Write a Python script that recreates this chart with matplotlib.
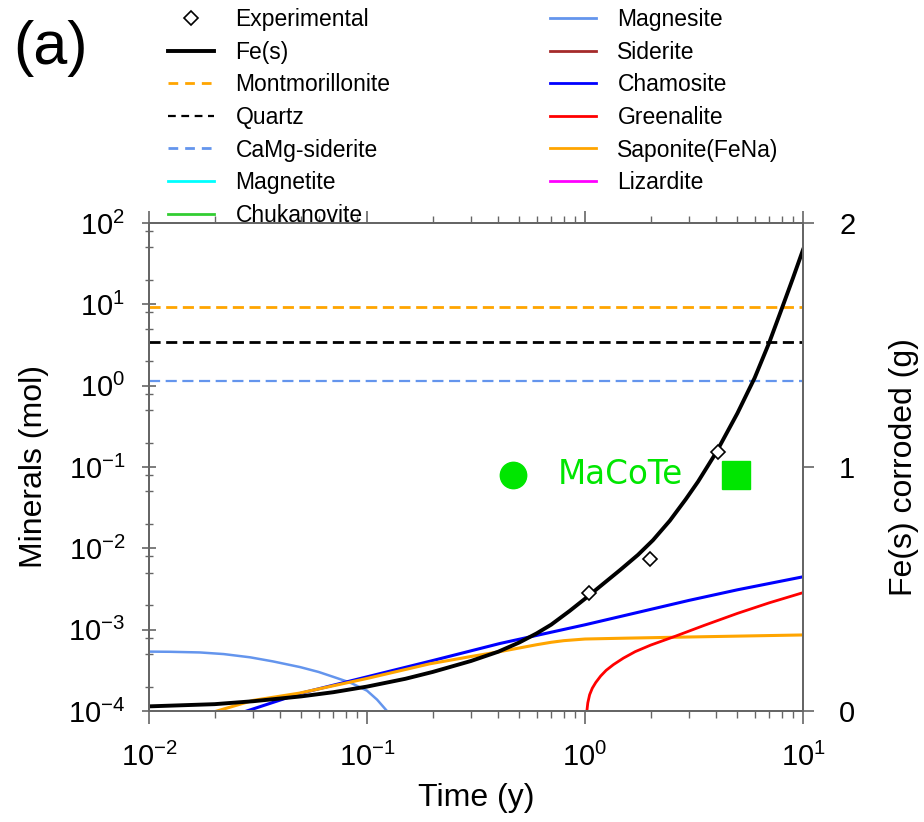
import matplotlib
matplotlib.use('Agg')
import matplotlib.pyplot as plt
from matplotlib.lines import Line2D
from matplotlib.ticker import LogLocator, NullFormatter
import numpy as np

plt.rcParams['font.family'] = ['Liberation Sans', 'DejaVu Sans']
plt.rcParams['mathtext.fontset'] = 'custom'
plt.rcParams['mathtext.rm'] = 'Liberation Sans'

# Fe(s) corroded (g), right axis
fe_t = [0.01, 0.02, 0.03, 0.05, 0.07, 0.1, 0.15, 0.2, 0.3, 0.4, 0.5, 0.6, 0.7, 0.85,
        1.0, 1.2, 1.45, 1.75, 2.05, 2.45, 2.9, 3.3, 4.0, 5.0, 6.0, 7.0, 8.0, 9.0, 10.0]
fe_g = [0.019, 0.028, 0.040, 0.060, 0.077, 0.100, 0.132, 0.160, 0.205, 0.243, 0.281,
        0.318, 0.354, 0.41, 0.46, 0.518, 0.578, 0.64, 0.70, 0.78, 0.868, 0.94, 1.06,
        1.22, 1.365, 1.51, 1.65, 1.775, 1.89]

exp_t = [1.04, 1.99, 4.06]
exp_g = [0.485, 0.621, 1.063]

# constant minerals (mol)
montmorillonite = 9.4
quartz = 3.4
camg_siderite = 1.13

# time-dependent minerals, log10(mol)
magnesite_t = [0.01, 0.0125, 0.0171, 0.022, 0.0291, 0.037, 0.0493, 0.06, 0.070, 0.0836,
               0.1, 0.1112, 0.1235]
magnesite_log = [-3.27, -3.272, -3.28, -3.30, -3.34, -3.39, -3.46, -3.52, -3.58, -3.65,
                 -3.75, -3.86, -4.0]

chamosite_t = [0.0281, 0.05, 0.1, 0.2, 0.407, 1.0, 1.61, 3.0, 5.0, 10.0]
chamosite_log = [-4.0, -3.78, -3.58, -3.38, -3.17, -2.94, -2.81, -2.64, -2.51, -2.35]

saponite_t = [0.0205, 0.03, 0.049, 0.1, 0.194, 0.3, 0.407, 0.5, 0.6, 0.7, 0.8, 1.0, 1.5,
              3.0, 10.0]
saponite_log = [-4.0, -3.87, -3.78, -3.60, -3.42, -3.33, -3.27, -3.225, -3.185, -3.155,
                -3.135, -3.115, -3.105, -3.09, -3.065]

greenalite_t = [1.02, 1.03, 1.05, 1.08, 1.12, 1.18, 1.25, 1.35, 1.5, 1.7, 2.0, 2.6, 3.5,
                5.0, 7.0, 10.0]
greenalite_log = [-4.0, -3.90, -3.80, -3.72, -3.65, -3.57, -3.50, -3.43, -3.35, -3.27,
                  -3.19, -3.08, -2.95, -2.80, -2.67, -2.545]

macote_t = [0.467, 4.95]
macote_mol = 0.08
macote_label_t = 1.45

fig = plt.figure(figsize=(9.24, 8.22), dpi=100)
ax1 = fig.add_axes([149/924, 1-711/822, 654/924, 488/822])
ax2 = ax1.twinx()

ax1.set_xscale('log')
ax1.set_yscale('log')
ax1.set_xlim(1e-2, 1e1)
ax1.set_ylim(1e-4, 1e2)
ax2.set_ylim(0, 2)

ax1.axhline(montmorillonite, color='orange', ls=(0, (4, 2)), lw=2)
ax1.axhline(quartz, color='black', ls=(0, (4, 2)), lw=2)
ax1.axhline(camg_siderite, color='cornflowerblue', ls=(0, (5, 2.5)), lw=1.6)

ax1.plot(magnesite_t, 10**np.array(magnesite_log), color='cornflowerblue', lw=1.8)
ax1.plot(chamosite_t, 10**np.array(chamosite_log), color='blue', lw=2.2)
ax1.plot(saponite_t, 10**np.array(saponite_log), color='orange', lw=2.2)
ax1.plot(greenalite_t, 10**np.array(greenalite_log), color='red', lw=2.0)

ax2.plot(fe_t, fe_g, color='black', lw=2.8)
ax2.plot(exp_t, exp_g, ls='none', marker='D', ms=7, mfc='white', mec='black', mew=1.2)

green = '#00e600'
ax1.plot(macote_t[0], macote_mol, 'o', color=green, ms=19)
ax1.plot(macote_t[1], macote_mol, 's', color=green, ms=20)
ax1.text(macote_label_t, macote_mol, 'MaCoTe', color=green,
         fontsize=23.5, family='DejaVu Sans', ha='center', va='center')

grey = '#666666'
for ax in (ax1, ax2):
    for sp in ax.spines.values():
        sp.set_color(grey)
        sp.set_linewidth(1.4)

ax1.yaxis.set_minor_locator(LogLocator(base=10, subs=[2, 5, 8], numticks=20))
ax1.yaxis.set_minor_formatter(NullFormatter())

ax1.tick_params(axis='both', which='major', labelsize=21, color=grey, width=1.2)
ax1.tick_params(axis='both', which='minor', color=grey, width=1.0)
ax1.tick_params(axis='y', which='major', direction='inout', length=10, pad=12)
ax1.tick_params(axis='y', which='minor', direction='inout', length=6)
ax1.tick_params(axis='x', which='major', direction='out', length=9, pad=14, top=True)
ax1.tick_params(axis='x', which='minor', direction='out', length=5, top=True)
ax2.tick_params(axis='y', labelsize=21, color=grey, width=1.2, direction='out', length=8, pad=18)
ax2.set_yticks([0, 1, 2])
ax2.set_yticklabels(['0', '1', '2'])

ax1.set_xlabel('Time (y)', fontsize=23, labelpad=8)
ax1.set_ylabel('Minerals (mol)', fontsize=23, labelpad=14)
ax2.set_ylabel('Fe(s) corroded (g)', fontsize=23, labelpad=24)

fig.text(0.014, 0.922, '(a)', fontsize=44)

handles = [
    Line2D([], [], ls='none', marker='D', ms=7, mfc='white', mec='black', mew=1.2),
    Line2D([], [], color='black', lw=2.8),
    Line2D([], [], color='orange', ls=(0, (3.5, 2.5)), lw=2),
    Line2D([], [], color='black', ls=(0, (3.5, 2.5)), lw=1.6),
    Line2D([], [], color='cornflowerblue', ls=(0, (3.5, 2.5)), lw=2),
    Line2D([], [], color='cyan', lw=2),
    Line2D([], [], color='limegreen', lw=2),
    Line2D([], [], color='cornflowerblue', lw=2),
    Line2D([], [], color='brown', lw=2),
    Line2D([], [], color='blue', lw=2),
    Line2D([], [], color='red', lw=2),
    Line2D([], [], color='orange', lw=2),
    Line2D([], [], color='magenta', lw=2),
]
labels = ['Experimental', 'Fe(s)', 'Montmorillonite', 'Quartz', 'CaMg-siderite',
          'Magnetite', 'Chukanovite', 'Magnesite', 'Siderite', 'Chamosite',
          'Greenalite', 'Saponite(FeNa)', 'Lizardite']
fig.legend(handles, labels, loc='upper left', bbox_to_anchor=(168/924, 1-8/822),
           ncol=2, frameon=False, fontsize=16.5, borderpad=0, borderaxespad=0,
           handlelength=2.0, handletextpad=0.95, labelspacing=0.42, columnspacing=6.95)

fig.savefig('out.png', dpi=100)
